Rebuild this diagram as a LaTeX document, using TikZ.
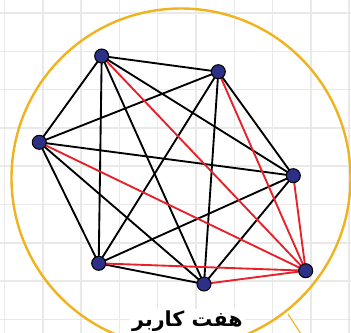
\documentclass[tikz,border=0pt]{standalone}
\usepackage{fontspec}
\newfontfamily\arabicfont[Script=Arabic]{DejaVu Sans}
\TeXXeTstate=1
\definecolor{gridgray}{HTML}{E9E9E9}
\definecolor{ringorange}{HTML}{F0B31E}
\definecolor{usernavy}{HTML}{2C3187}
\definecolor{linkred}{HTML}{E8202A}
\usetikzlibrary{arrows.meta}

\tikzset{
  user/.style={circle,fill=usernavy,draw=black,line width=0.8pt,minimum size=10.5pt,inner sep=0pt},
  link/.style={black,line width=1.4pt},
  redlink/.style={linkred,line width=1.4pt}
}

\begin{document}
\begin{tikzpicture}[x=0.75pt,y=-0.75pt]
      \useasboundingbox (0,0) rectangle (351,333);
      \fill[white] (0,0) rectangle (351,333);
      % grid
      \foreach \k in {0,...,9}{
        \draw[gridgray,line width=1.1pt] (4.5+38.3*\k,0) -- (4.5+38.3*\k,333);
      }
      \foreach \k in {0,...,8}{
        \draw[gridgray,line width=1.1pt] (0,13+38.3*\k) -- (351,13+38.3*\k);
      }
      % ring
      \draw[ringorange,line width=1.8pt] (181,178) circle[radius=169.5*0.75pt];
      \draw[ringorange,line width=0.8pt] (288,314) -- (301,334);
      % users
      \foreach \n/\x/\y in {a/101.7/56,b/218.3/71.7,c/39.3/142.3,d/293.3/175.7,e/98.7/263.3,f/204/284,g/305.7/270.7}{
        \coordinate (\n) at (\x,\y);
      }
      \foreach \s/\t in {a/b,a/c,a/d,a/e,a/f,b/c,b/d,b/e,b/f,c/d,c/e,c/f,d/e,d/f,e/f}{
        \draw[link] (\s) -- (\t);
      }
      \foreach \s in {a,b,c,d,e,f}{
        \draw[redlink] (\s) -- (g);
      }
      \foreach \n in {a,b,c,d,e,f,g}{
        \node[user] (u\n) at (\n) {};
      }
      \node[fill=white,inner sep=1.5pt,font=\arabicfont\bfseries\fontsize{15.5}{17}\selectfont] (title) at (187.5,321) {\beginR هفت کاربر\endR};
    \end{tikzpicture}
\end{document}
